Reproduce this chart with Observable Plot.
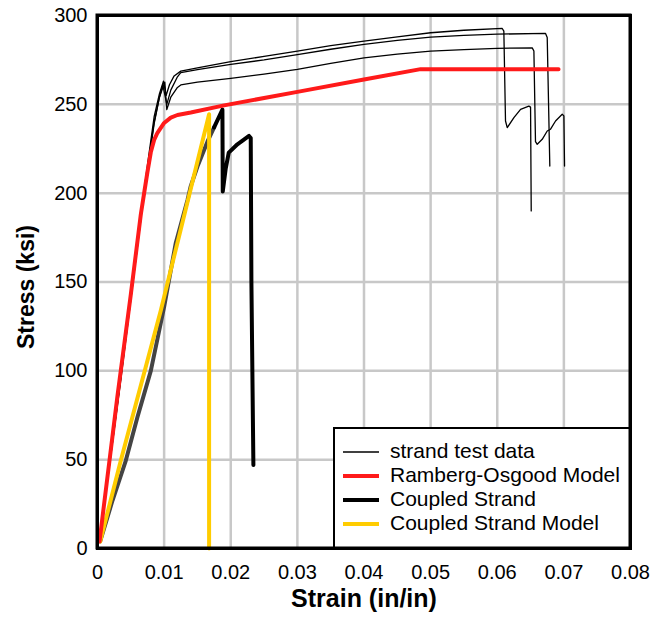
<!DOCTYPE html>
<html><head><meta charset="utf-8">
<script src="https://cdn.jsdelivr.net/npm/d3@7"></script>
<script src="https://cdn.jsdelivr.net/npm/@observablehq/plot@0.6"></script>
<style>body{margin:0;background:#fff} #chart{width:653px;height:617px}</style>
</head><body><div id="chart"></div>
<script>
const xTicks = [0, 0.01, 0.02, 0.03, 0.04, 0.05, 0.06, 0.07, 0.08];
const yTicks = [0, 50, 100, 150, 200, 250, 300];
const seriesNames = ["strand test data", "Ramberg-Osgood Model", "Coupled Strand", "Coupled Strand Model"];

const testA = [[0.0003,4],[0.0035,97],[0.0068,196],[0.0075,216],[0.0085,243],[0.0093,256],[0.0099,263],[0.0103,255],[0.0108,261],[0.0115,266],[0.0125,268.7],[0.015,270.5],[0.02,274],[0.025,277],[0.03,280],[0.035,283],[0.04,285.6],[0.045,288],[0.05,290.3],[0.055,291.7],[0.06075,292.7],[0.06099,291.2],[0.06124,240.6],[0.0615,236.9],[0.0625,242.5],[0.0635,247.2],[0.06474,249],[0.065,248.4],[0.0651,190]];
const testB = [[0.0003,4],[0.0035,96],[0.0068,195],[0.0075,214],[0.0085,240],[0.0093,254],[0.0098,261],[0.0104,250],[0.011,258],[0.012,265.5],[0.0125,267.8],[0.015,269.5],[0.02,272.5],[0.025,275],[0.03,278],[0.035,281],[0.04,283.7],[0.045,286],[0.05,287.8],[0.055,288.8],[0.06,289.5],[0.06725,289.9],[0.0675,287.6],[0.06789,215.3]];
const testC = [[0.0003,4],[0.0035,95],[0.0068,194],[0.0075,213],[0.0085,239],[0.0093,254],[0.0101,262.5],[0.0104,247],[0.011,254],[0.012,259.5],[0.0125,260.9],[0.015,262.5],[0.02,264.6],[0.025,267],[0.03,269.7],[0.035,273],[0.04,276.2],[0.045,278.3],[0.05,280],[0.055,280.8],[0.06,281.5],[0.06525,281.8],[0.0655,280],[0.06574,229],[0.066,227.5],[0.06675,230.3],[0.0675,235],[0.068,236],[0.06875,240.6],[0.06975,244.4],[0.07,243.5],[0.0701,215.3]];
const ramberg = [[0.0003,4],[0.003,86],[0.005,143],[0.0065,188],[0.007,200],[0.0075,212],[0.008,223],[0.0085,230],[0.009,234],[0.01,239.5],[0.011,242.5],[0.012,244],[0.014,245.4],[0.019,249.4],[0.03,257],[0.04,264],[0.0485,269.8],[0.0692,269.8]];
const coupledRise = [[0.0004,4],[0.00225,27],[0.00425,49.5],[0.006,74],[0.008,100],[0.010,136],[0.01175,172],[0.0135,196],[0.014,204],[0.015,215],[0.0165,229],[0.0175,237]];
const coupledPost = [[0.0175,237],[0.01875,247],[0.0188,201],[0.01925,214],[0.0197,222.8],[0.021,227.5],[0.02274,232.2],[0.023,231],[0.0231,150],[0.0234,47]];
const coupledModel = [[0.0004,4],[0.0035,49.5],[0.0095,134],[0.01675,244.4],[0.01675,0]];

const toRows = (arr, id) => arr.map(([x, y]) => ({x, y, id}));
const testRows = [...toRows(testA, "A"), ...toRows(testB, "B"), ...toRows(testC, "C")];

const chart = Plot.plot({
  width: 653, height: 617,
  marginLeft: 97, marginRight: 23, marginTop: 15, marginBottom: 69,
  style: {fontFamily: "'Liberation Sans', Arial, sans-serif", fontSize: "20px", background: "white", color: "black", overflow: "visible"},
  x: {domain: [0, 0.08], ticks: xTicks, tickFormat: d => d === 0 ? "0" : d.toFixed(2), tickSize: 0, tickPadding: 16, label: null},
  y: {domain: [0, 300], ticks: yTicks, tickSize: 0, tickPadding: 10, label: null},
  marks: [
    Plot.gridX(xTicks, {stroke: "#c8c8c8", strokeOpacity: 1, strokeWidth: 2.5}),
    Plot.gridY(yTicks, {stroke: "#c8c8c8", strokeOpacity: 1, strokeWidth: 2.5}),
    Plot.line(testRows, {x: "x", y: "y", z: "id", stroke: "black", strokeWidth: 1.3, strokeLinejoin: "round"}),
    Plot.line(coupledRise, {x: d => d[0], y: d => d[1], stroke: "#444", strokeWidth: 4, strokeLinejoin: "round"}),
    Plot.line(coupledPost, {x: d => d[0], y: d => d[1], stroke: "black", strokeWidth: 4, strokeLinejoin: "round"}),
    Plot.line(coupledModel, {x: d => d[0], y: d => d[1], stroke: "#ffcc00", strokeWidth: 4, strokeLinejoin: "round"}),
    Plot.line(ramberg, {x: d => d[0], y: d => d[1], stroke: "#ff1a1a", strokeWidth: 4, strokeLinejoin: "round"}),
    Plot.frame({stroke: "black", strokeWidth: 3})
  ]
});
document.getElementById("chart").appendChild(chart);

const svg = d3.select(chart);
const font = "'Liberation Sans', Arial, sans-serif";
svg.append("text").attr("x", 364).attr("y", 600).attr("text-anchor", "middle").attr("dominant-baseline", "middle")
  .attr("font-family", font).attr("font-weight", "bold").attr("font-size", 25).attr("fill", "black").text("Strain (in/in)");
svg.append("text").attr("transform", "translate(28,287) rotate(-90)").attr("text-anchor", "middle").attr("dominant-baseline", "middle")
  .attr("font-family", font).attr("font-weight", "bold").attr("font-size", 23).attr("fill", "black").text("Stress (ksi)");

const lg = svg.append("g");
lg.append("rect").attr("x", 334).attr("y", 428).attr("width", 296).attr("height", 120)
  .attr("fill", "white").attr("stroke", "black").attr("stroke-width", 2);
const legendStyles = [
  {color: "black", w: 1.3},
  {color: "#ff1a1a", w: 4},
  {color: "black", w: 4},
  {color: "#ffcc00", w: 4}
];
seriesNames.forEach((name, i) => {
  const yy = 452 + i * 24;
  lg.append("line").attr("x1", 343).attr("x2", 379).attr("y1", yy).attr("y2", yy)
    .attr("stroke", legendStyles[i].color).attr("stroke-width", legendStyles[i].w);
  lg.append("text").attr("x", 390).attr("y", yy).attr("text-anchor", "start").attr("dominant-baseline", "middle")
    .attr("font-family", font).attr("font-size", 21).attr("fill", "black").text(name);
});
svg.append("rect").attr("x", 97).attr("y", 15).attr("width", 533).attr("height", 533)
  .attr("fill", "none").attr("stroke", "black").attr("stroke-width", 3);
</script>
</body></html>
